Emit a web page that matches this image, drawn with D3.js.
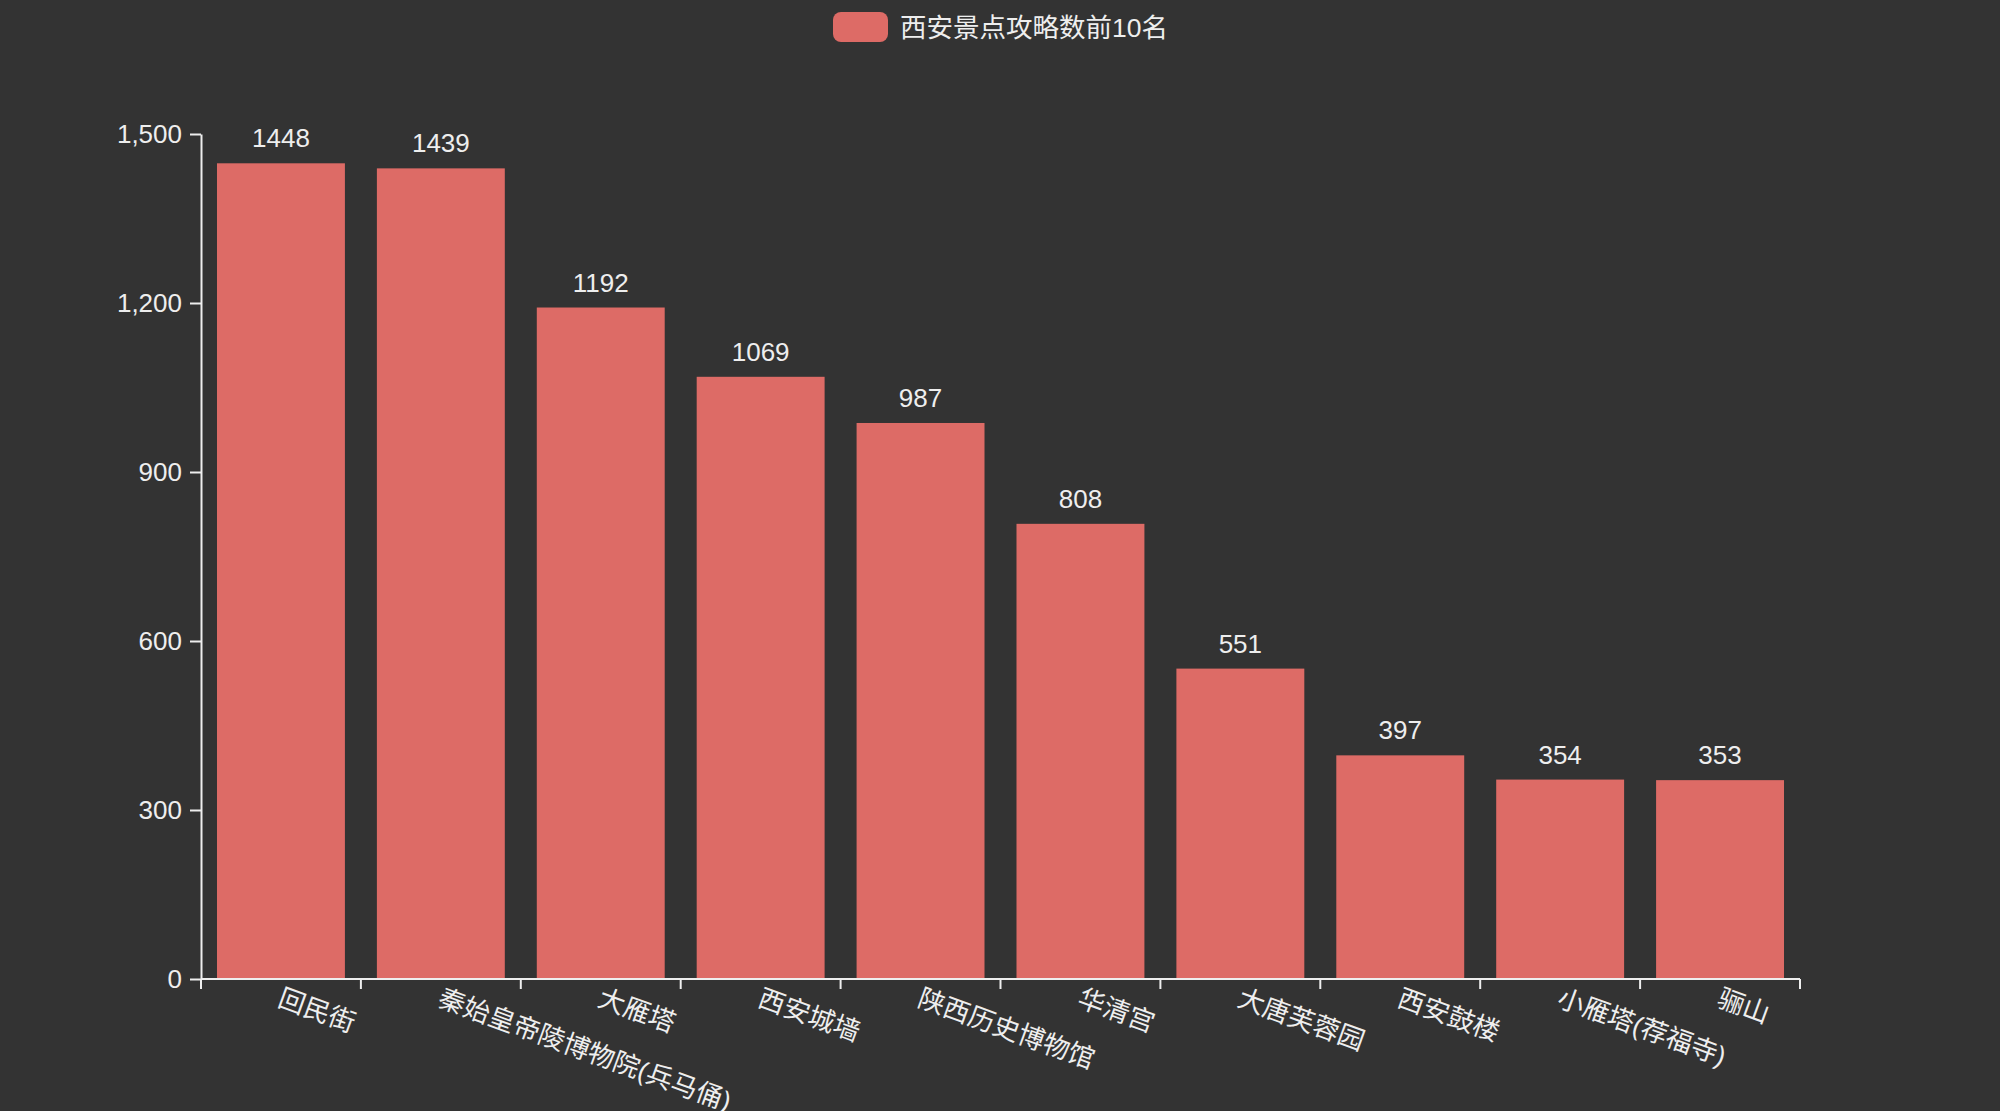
<!DOCTYPE html>
<html>
<head>
<meta charset="utf-8">
<script src="https://cdn.jsdelivr.net/npm/d3@7"></script>
<style>
  html, body { margin: 0; padding: 0; background: #333333; }
  svg { display: block; }
  text { font-family: "Liberation Sans", "Noto Sans CJK SC", sans-serif; }
</style>
</head>
<body>
<svg id="chart" width="2000" height="1111"></svg>
<script>
const categories = ["回民街", "秦始皇帝陵博物院(兵马俑)", "大雁塔", "西安城墙", "陕西历史博物馆", "华清宫", "大唐芙蓉园", "西安鼓楼", "小雁塔(荐福寺)", "骊山"];
const values = [1448, 1439, 1192, 1069, 987, 808, 551, 397, 354, 353];
const yTicks = [0, 300, 600, 900, 1200, 1500];
const seriesName = "西安景点攻略数前10名";

const W = 2000, H = 1111;
const margin = { left: 201, right: 200, top: 134, bottom: 132 };
const barColor = "#dd6b66";
const textColor = "#eeeeee";
const axisColor = "#eeeeee";

const svg = d3.select("#chart");
svg.append("rect").attr("width", W).attr("height", H).attr("fill", "#333333");

const x = d3.scaleBand()
  .domain(categories)
  .range([margin.left, W - margin.right])
  .paddingInner(0.2)
  .paddingOuter(0.1);

const y = d3.scaleLinear()
  .domain([0, 1500])
  .range([H - margin.bottom, margin.top]);

// Bars
svg.append("g").selectAll("rect")
  .data(values)
  .join("rect")
  .attr("x", (d, i) => x(categories[i]))
  .attr("y", d => y(d))
  .attr("width", x.bandwidth())
  .attr("height", d => y(0) - y(d))
  .attr("fill", barColor);

// Bar labels
svg.append("g").selectAll("text")
  .data(values)
  .join("text")
  .attr("x", (d, i) => x(categories[i]) + x.bandwidth() / 2)
  .attr("y", d => y(d) - 16)
  .attr("text-anchor", "middle")
  .attr("fill", textColor)
  .attr("font-size", 26)
  .text(d => d);

// Y axis
const yAxis = d3.axisLeft(y)
  .tickValues(yTicks)
  .tickSize(11)
  .tickSizeOuter(0)
  .tickPadding(8)
  .tickFormat(d3.format(","));
const gy = svg.append("g")
  .attr("transform", `translate(${margin.left},0)`)
  .call(yAxis);
gy.select(".domain").attr("stroke", axisColor).attr("stroke-width", 2);
gy.selectAll(".tick line").attr("stroke", axisColor).attr("stroke-width", 2);
gy.selectAll(".tick text")
  .attr("fill", textColor)
  .attr("font-size", 26)
  .attr("font-family", "Liberation Sans, Noto Sans CJK SC, sans-serif");

// X axis: line + boundary ticks
const step = x.step();
const x0 = margin.left;
const boundaries = d3.range(categories.length + 1).map(i => x0 + i * step);
const gx = svg.append("g");
gx.append("line")
  .attr("x1", x.range()[0]).attr("x2", x.range()[1])
  .attr("y1", y(0)).attr("y2", y(0))
  .attr("stroke", axisColor).attr("stroke-width", 2);
gx.selectAll("line.tick")
  .data(boundaries)
  .join("line")
  .attr("class", "tick")
  .attr("x1", d => d).attr("x2", d => d)
  .attr("y1", y(0)).attr("y2", y(0) + 10)
  .attr("stroke", axisColor).attr("stroke-width", 2);

// X labels rotated
gx.selectAll("text")
  .data(categories)
  .join("text")
  .attr("transform", d => `translate(${x(d) + x.bandwidth() / 2 - 2},${y(0) + 20}) rotate(20)`)
  .attr("text-anchor", "start")
  .attr("dominant-baseline", "middle")
  .attr("fill", textColor)
  .attr("font-size", 26.5)
  .text(d => d);

// Legend
const lg = svg.append("g");
lg.append("rect")
  .attr("x", 833).attr("y", 12)
  .attr("width", 55).attr("height", 30)
  .attr("rx", 8).attr("ry", 8)
  .attr("fill", barColor);
lg.append("text")
  .attr("x", 900).attr("y", 30)
  .attr("dominant-baseline", "middle")
  .attr("fill", textColor)
  .attr("font-size", 26.5)
  .text(seriesName);
</script>
</body>
</html>
